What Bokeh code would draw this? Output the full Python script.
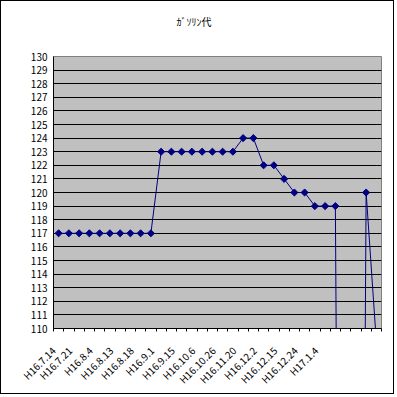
import math
from bokeh.plotting import figure
from bokeh.models import Range1d, FixedTicker, Title
from bokeh.embed import file_html
from bokeh.resources import INLINE

title_text = "ｶﾞｿﾘﾝ代"
# gasoline price per category (0 = empty cells plotted as zero)
values = [117, 117, 117, 117, 117, 117, 117, 117, 117, 117,
          123, 123, 123, 123, 123, 123, 123, 123,
          124, 124, 122, 122, 121, 120, 120, 119, 119, 119,
          0, 0, 120, 109]
tick_labels = ["H16.7.14", "H16.7.21", "H16.8.4", "H16.8.13", "H16.8.18",
               "H16.9.1", "H16.9.15", "H16.10.6", "H16.10.26", "H16.11.20",
               "H16.12.2", "H16.12.15", "H16.12.24", "H17.1.4"]
label_every = 2
y_min, y_max = 110, 130

n = len(values)
xs = [i + 0.5 for i in range(n)]
# rotated labels sit slightly left of their category, as in the original
label_pos = [max(0.0, i * label_every - 0.4) for i in range(len(tick_labels))]

FONT = "Noto Sans CJK JP"
FRAME_W, FRAME_H = 328, 272
ML, MR, MT, MB = 52, 14, 55, 67

p = figure(width=ML + FRAME_W + MR, height=MT + FRAME_H + MB,
           output_backend="svg", toolbar_location=None, title_location=None,
           x_range=Range1d(0, n), y_range=Range1d(y_min, y_max),
           min_border_left=ML, min_border_right=MR, min_border_top=MT,
           min_border_bottom=MB)
p.styles = {"border": "1px solid black"}
p.background_fill_color = "#C0C0C0"
p.border_fill_color = "white"
p.outline_line_color = "#808080"
p.outline_line_width = 1

# spacer then title (stacked outward from the frame)
p.add_layout(Title(text=" ", text_font=FONT, text_font_size="10px",
                   standoff=11), "above")
p.add_layout(Title(text=title_text, align="left", offset=123, standoff=0,
                   text_font=FONT, text_font_size="10px",
                   text_font_style="normal", text_color="black"), "above")

# x axis
xa = p.xaxis[0]
xa.ticker = FixedTicker(ticks=label_pos, minor_ticks=list(range(n + 1)))
xa.major_label_overrides = {pos: lab for pos, lab in zip(label_pos, tick_labels)}
xa.major_label_orientation = math.pi / 4
xa.major_label_text_font = FONT
xa.major_label_text_font_size = "10px"
xa.major_label_text_color = "black"
xa.major_label_standoff = 17
xa.axis_line_color = "black"
xa.major_tick_line_color = None
xa.minor_tick_line_color = "black"
xa.major_tick_out = 0
xa.major_tick_in = 0
xa.minor_tick_out = 3
xa.minor_tick_in = 0

# y axis
ya = p.yaxis[0]
ya.ticker = FixedTicker(ticks=list(range(y_min, y_max + 1)))
ya.major_label_text_font = FONT
ya.major_label_text_font_size = "10px"
ya.major_label_text_color = "black"
ya.major_label_standoff = 6
ya.axis_line_color = "black"
ya.major_tick_out = 0
ya.major_tick_in = 0
ya.minor_tick_out = 0
ya.minor_tick_in = 0

p.xgrid.visible = False
p.ygrid.ticker = FixedTicker(ticks=list(range(y_min + 1, y_max)))
p.ygrid.grid_line_color = "black"
p.ygrid.grid_line_width = 1

p.line(xs, values, line_color="#000080", line_width=1)
p.scatter(xs, values, marker="square", angle=math.pi / 4, size=5,
          fill_color="#000080", line_color="#000080")

open("out.html", "w").write(file_html(p, INLINE))
